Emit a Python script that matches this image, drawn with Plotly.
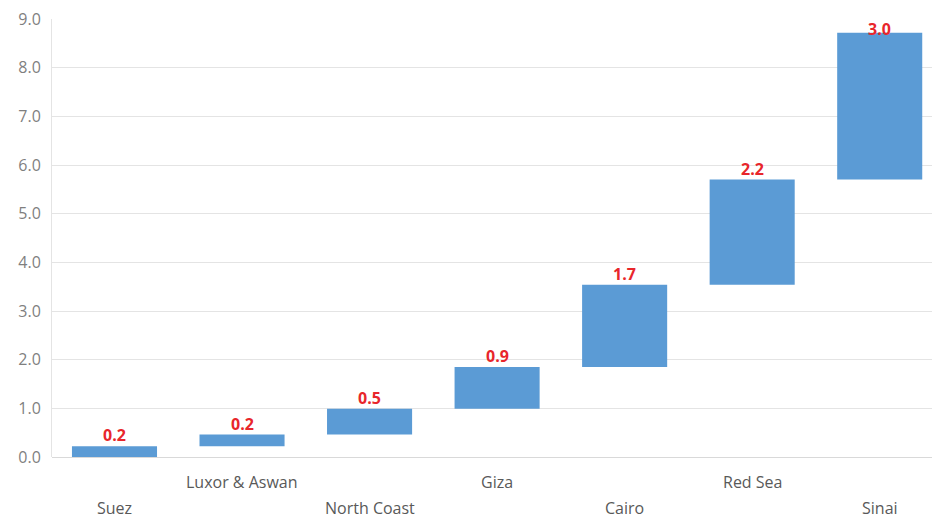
import plotly.graph_objects as go

categories = ["Suez", "Luxor & Aswan", "North Coast", "Giza", "Cairo", "Red Sea", "Sinai"]
increments = [0.22, 0.24, 0.53, 0.86, 1.69, 2.16, 3.02]
y_ticks = [0, 1, 2, 3, 4, 5, 6, 7, 8, 9]

bases = []
run = 0.0
for v in increments:
    bases.append(run)
    run += v
tops = [b + v for b, v in zip(bases, increments)]
xs = list(range(len(categories)))

fig = go.Figure()
fig.add_trace(go.Bar(
    x=xs, y=increments, base=bases, width=0.667,
    marker=dict(color="#5B9BD5", line=dict(width=0)),
    hoverinfo="skip", showlegend=False,
))

annotations = []
for i, (c, v, t) in enumerate(zip(categories, increments, tops)):
    annotations.append(dict(
        x=i, y=t, xref="x", yref="y", text=f"<b>{v:.1f}</b>", showarrow=False,
        yanchor="middle", yshift=(11 if i < len(categories) - 1 else 4),
        font=dict(family="Open Sans", size=16, color="#E8262B"),
    ))
    annotations.append(dict(
        x=i, y=(-0.056 if i % 2 else -0.117), xref="x", yref="paper", text=c,
        showarrow=False, yanchor="middle",
        font=dict(family="Open Sans", size=16, color="#595959"),
    ))

fig.update_layout(
    width=932, height=520,
    margin=dict(l=52, r=0, t=19, b=63),
    paper_bgcolor="white", plot_bgcolor="white",
    bargap=0.333,
    annotations=annotations,
    xaxis=dict(range=[-0.49, 6.41], showticklabels=False, showgrid=False,
               zeroline=False, showline=False, ticks=""),
    yaxis=dict(range=[0, 9], tickvals=y_ticks, ticktext=[f"{v:.1f}" for v in y_ticks],
               showgrid=True, gridcolor="#E4E4E4", gridwidth=1,
               zeroline=True, zerolinecolor="#D9D9D9", zerolinewidth=1,
               showline=True, linecolor="#E4E4E4", linewidth=1,
               ticks="", ticklen=0, ticklabelstandoff=7,
               tickfont=dict(family="Open Sans", size=16, color="#7F7F7F")),
)

fig.write_html("out.html", config={"displayModeBar": False},
               post_script="document.body.style.margin='0px';document.body.style.overflow='hidden';")
